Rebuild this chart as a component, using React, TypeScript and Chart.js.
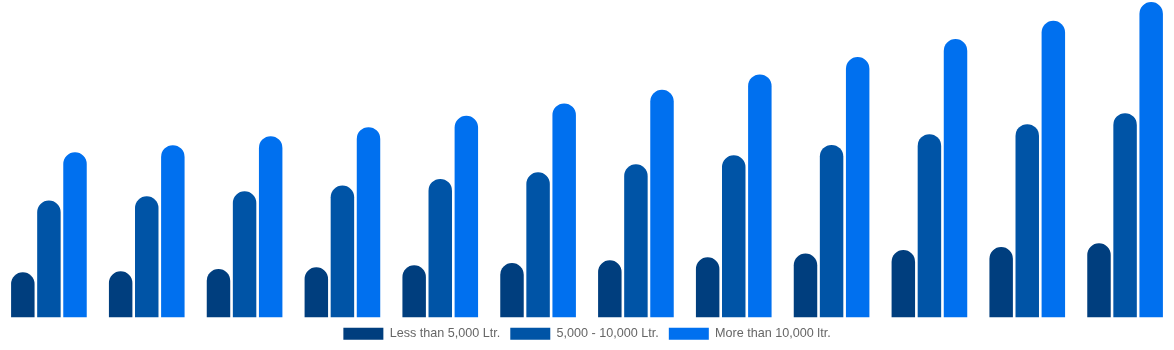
import React, { useEffect, useRef } from "react";
import { Chart, registerables } from "chart.js";

Chart.register(...registerables);

const categories = ["2021", "2022", "2023", "2024", "2025", "2026", "2027", "2028", "2029", "2030", "2031", "2032"];
const lessThan5000 = [45, 46, 48.3, 50, 52, 54.3, 57, 60, 63.7, 67.3, 70.3, 74];
const from5000to10000 = [116.7, 121, 126, 131.7, 138.3, 145, 153, 162, 172.3, 183, 193, 204];
const moreThan10000 = [165, 172, 181, 190, 201.3, 213.7, 227.3, 242.7, 260, 278, 296.3, 315];
const seriesLabels = ["Less than 5,000 Ltr.", "5,000 - 10,000 Ltr.", "More than 10,000 ltr."];
const seriesColors = ["#003e7e", "#0054a6", "#0070ef"];

export default function App() {
  const ref = useRef<HTMLCanvasElement | null>(null);
  useEffect(() => {
    if (!ref.current) return;
    const values = [lessThan5000, from5000to10000, moreThan10000];
    const chart = new Chart(ref.current, {
      type: "bar",
      data: {
        labels: categories,
        datasets: values.map((d, i) => ({
          label: seriesLabels[i],
          data: d,
          backgroundColor: seriesColors[i],
          borderRadius: { topLeft: 12, topRight: 12, bottomLeft: 0, bottomRight: 0 },
          borderSkipped: false,
          barPercentage: 0.9,
          categoryPercentage: 0.8,
        })),
      },
      options: {
        animation: false,
        responsive: true,
        maintainAspectRatio: false,
        layout: { padding: 0 },
        scales: {
          x: { display: false },
          y: { display: false, min: 0, max: 317 },
        },
        plugins: {
          legend: {
            position: "bottom",
            labels: {
              boxWidth: 40,
              boxHeight: 12,
              padding: 10,
              color: "#666",
              font: { family: "'Liberation Sans', Arial, sans-serif", size: 12.6 },
            },
          },
          tooltip: { enabled: false },
        },
      },
    });
    return () => chart.destroy();
  }, []);
  return (
    <div style={{ position: "absolute", left: 0, top: 0, width: 1174, height: 350 }}>
      <canvas ref={ref} />
    </div>
  );
}
